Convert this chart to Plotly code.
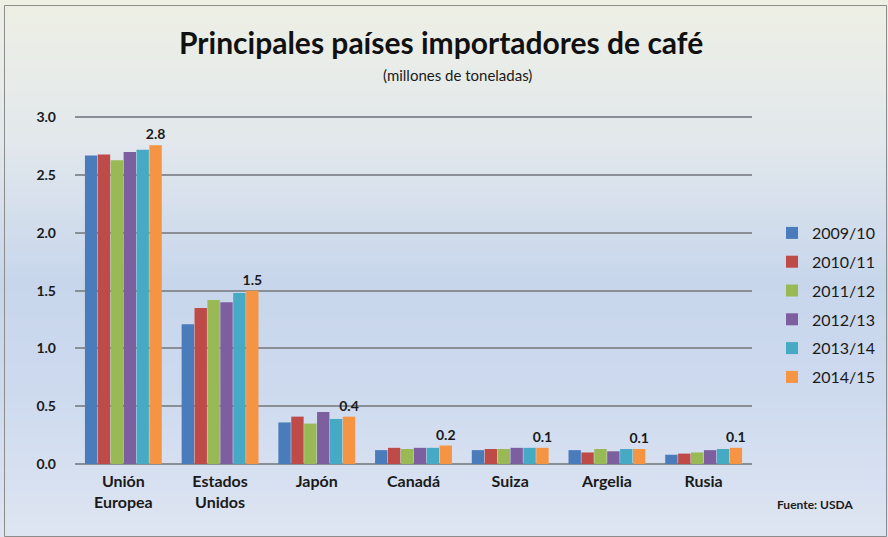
import plotly.graph_objects as go

categories = ["Unión<br>Europea", "Estados<br>Unidos", "Japón", "Canadá", "Suiza", "Argelia", "Rusia"]
series_names = ["2009/10", "2010/11", "2011/12", "2012/13", "2013/14", "2014/15"]
v_2009 = [2.67, 1.21, 0.36, 0.12, 0.12, 0.12, 0.08]
v_2010 = [2.68, 1.35, 0.41, 0.14, 0.13, 0.10, 0.09]
v_2011 = [2.63, 1.42, 0.35, 0.13, 0.13, 0.13, 0.10]
v_2012 = [2.70, 1.40, 0.45, 0.14, 0.14, 0.11, 0.12]
v_2013 = [2.72, 1.48, 0.39, 0.14, 0.14, 0.13, 0.13]
v_2014 = [2.76, 1.50, 0.41, 0.16, 0.14, 0.13, 0.14]
series_values = [v_2009, v_2010, v_2011, v_2012, v_2013, v_2014]
colors = ["#4a7bbb", "#be4b48", "#98b954", "#7d5fa0", "#46aac5", "#f59443"]
y_ticks = [0.0, 0.5, 1.0, 1.5, 2.0, 2.5, 3.0]

FONT = "Lato"
W, H = 888, 537
ML, MR, MT, MB = 75, 136, 114, 73
PW, PH = W - ML - MR, H - MT - MB

def px_x(p):
    return (p - ML) / PW

def px_y(p):
    return (H - MB - p) / PH

fig = go.Figure()
for i, (name, vals) in enumerate(zip(series_names, series_values)):
    last = i == len(series_names) - 1
    fig.add_trace(go.Bar(
        x=categories, y=vals, name=name,
        marker=dict(color=colors[i], line=dict(width=0)),
        legendgroup=name,
        text=vals if last else None,
        texttemplate="%{y:.1f}" if last else None,
        textposition="outside" if last else None,
        constraintext="none",
        cliponaxis=False,
        textfont=dict(family=FONT, size=14, color="#1a1a1a", weight="bold"),
    ))

# background gradient via stacked stripes
stops = [(0, (238, 240, 228)), (140, (226, 232, 236)), (280, (200, 214, 236)), (380, (204, 217, 238)), (537, (222, 229, 242))]

def col_at(p):
    for (a, ca), (b, cb) in zip(stops, stops[1:]):
        if a <= p <= b:
            t = (p - a) / (b - a)
            return "rgb(%d,%d,%d)" % tuple(round(ca[k] + (cb[k] - ca[k]) * t) for k in range(3))
    return "rgb(%d,%d,%d)" % stops[-1][1]

shapes = []
step = 6
for p in range(0, H, step):
    shapes.append(dict(type="rect", xref="paper", yref="paper", layer="below",
                       x0=px_x(0), x1=px_x(W), y0=px_y(min(p + step + 1, H)), y1=px_y(p),
                       fillcolor=col_at(p + step / 2), line=dict(width=0)))
# outer border
shapes.append(dict(type="rect", xref="paper", yref="paper", layer="above",
                   x0=px_x(4.5), x1=px_x(886.5), y0=px_y(536.5), y1=px_y(5.5),
                   line=dict(color="#8c8c8c", width=1), fillcolor="rgba(0,0,0,0)"))

fig.update_layout(
    width=W, height=H,
    margin=dict(l=ML, r=MR, t=MT, b=MB, autoexpand=False),
    paper_bgcolor="#dfe6f1",
    plot_bgcolor="rgba(0,0,0,0)",
    barmode="group", bargap=0.2, bargroupgap=0.04,
    font=dict(family=FONT, color="#1a1a1a"),
    showlegend=True,
    legend=dict(x=px_x(772), y=px_y(216), xanchor="left", yanchor="top",
                traceorder="grouped", tracegroupgap=5,
                font=dict(family=FONT, size=16, color="#1a1a1a"),
                bgcolor="rgba(0,0,0,0)", itemwidth=30),
    shapes=shapes,
    annotations=[
        dict(text="Principales países importadores de café", xref="paper", yref="paper",
             x=px_x(441), y=px_y(42), xanchor="center", yanchor="middle", showarrow=False,
             font=dict(family=FONT, size=30, color="#111111", weight="bold")),
        dict(text="(millones de toneladas)", xref="paper", yref="paper",
             x=px_x(457), y=px_y(75), xanchor="center", yanchor="middle", showarrow=False,
             font=dict(family=FONT, size=15, color="#1a1a1a")),
        dict(text="Fuente: USDA", xref="paper", yref="paper",
             x=px_x(815), y=px_y(504), xanchor="center", yanchor="middle", showarrow=False,
             font=dict(family=FONT, size=12, color="#1a1a1a", weight="bold")),
    ],
)
fig.update_yaxes(range=[0, 3.03], tickvals=y_ticks, tickformat=".1f",
                 showgrid=True, gridcolor="#8a8f96", gridwidth=1.5,
                 zeroline=True, zerolinecolor="#8a8f96", zerolinewidth=1.5,
                 showline=False, ticks="", ticklabelstandoff=18,
                 tickfont=dict(family=FONT, size=14, color="#1a1a1a", weight="bold"))
fig.update_xaxes(showgrid=False, showline=False, ticks="", ticklabelstandoff=6,
                 tickfont=dict(family=FONT, size=16, color="#1a1a1a", weight="bold"))

fig.write_html("out.html", config={"displayModeBar": False},
               post_script="document.body.style.margin='0';")
